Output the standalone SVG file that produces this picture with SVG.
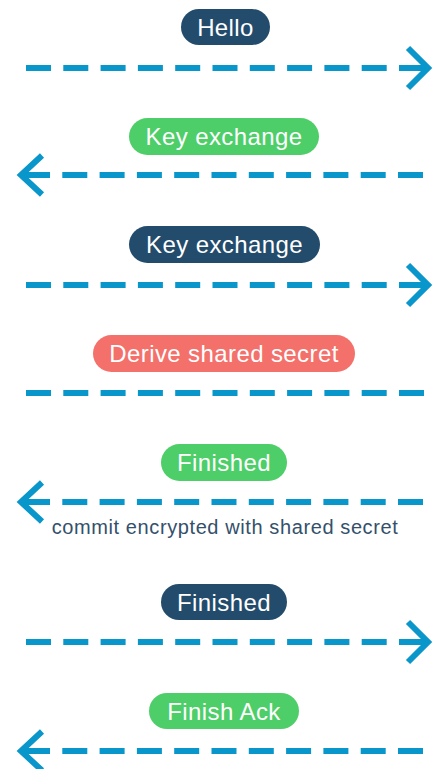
<svg xmlns="http://www.w3.org/2000/svg" width="434" height="769" viewBox="0 0 434 769">
<style>
.pill-dark{fill:#234b6b}
.pill-green{fill:#4dce68}
.pill-red{fill:#f4706a}
.lbl{font-family:"Liberation Sans",Arial,sans-serif;font-size:24px;letter-spacing:0.4px;fill:#ffffff;text-anchor:middle}
.cap{font-family:"Liberation Sans",Arial,sans-serif;font-size:20px;letter-spacing:0.6px;fill:#34506b;text-anchor:middle}
.dash{fill:none;stroke:#0996cb;stroke-width:6;stroke-dasharray:25 12.3}
.head{fill:none;stroke:#0996cb;stroke-width:6;stroke-linejoin:miter}
</style>
<rect width="434" height="769" fill="#ffffff"/>
<g id="connectors">
  <g id="c1"><path class="dash" d="M26 68H424"/><path class="head" d="M408 48L428 68L408 88M418 68H428"/></g>
  <g id="c2"><path class="dash" d="M423 175H25"/><path class="head" d="M42 155.5L21 175L42 194.5M21 175H30"/></g>
  <g id="c3"><path class="dash" d="M26 285H424"/><path class="head" d="M408 265L428 285L408 305M418 285H428"/></g>
  <g id="c4"><path class="dash" d="M26 393H424"/></g>
  <g id="c5"><path class="dash" d="M423 502H25"/><path class="head" d="M42 482.5L21 502L42 521.5M21 502H30"/></g>
  <g id="c6"><path class="dash" d="M26 642H424"/><path class="head" d="M408 622L428 642L408 662M418 642H428"/></g>
  <g id="c7"><path class="dash" d="M423 751H25"/><path class="head" d="M42 731.5L21 751L42 770.5M21 751H30"/></g>
</g>
<g id="n1"><rect class="pill-dark" x="181" y="9" width="89" height="36" rx="18"/><text class="lbl" x="225.5" y="35.6">Hello</text></g>
<g id="n2"><rect class="pill-green" x="129" y="118" width="190" height="37" rx="18.5"/><text class="lbl" x="224" y="145">Key exchange</text></g>
<g id="n3"><rect class="pill-dark" x="129" y="226" width="191" height="37" rx="18.5"/><text class="lbl" x="224.5" y="253">Key exchange</text></g>
<g id="n4"><rect class="pill-red" x="93" y="335" width="262" height="37" rx="18.5"/><text class="lbl" x="224" y="362">Derive shared secret</text></g>
<g id="n5"><rect class="pill-green" x="161" y="444" width="126" height="37" rx="18.5"/><text class="lbl" x="224" y="471">Finished</text></g>
<g id="caption"><text class="cap" x="225" y="534">commit encrypted with shared secret</text></g>
<g id="n6"><rect class="pill-dark" x="161" y="584" width="126" height="36" rx="18"/><text class="lbl" x="224" y="610.6">Finished</text></g>
<g id="n7"><rect class="pill-green" x="149" y="693" width="150" height="36" rx="18"/><text class="lbl" x="224" y="719.6">Finish Ack</text></g>
</svg>
